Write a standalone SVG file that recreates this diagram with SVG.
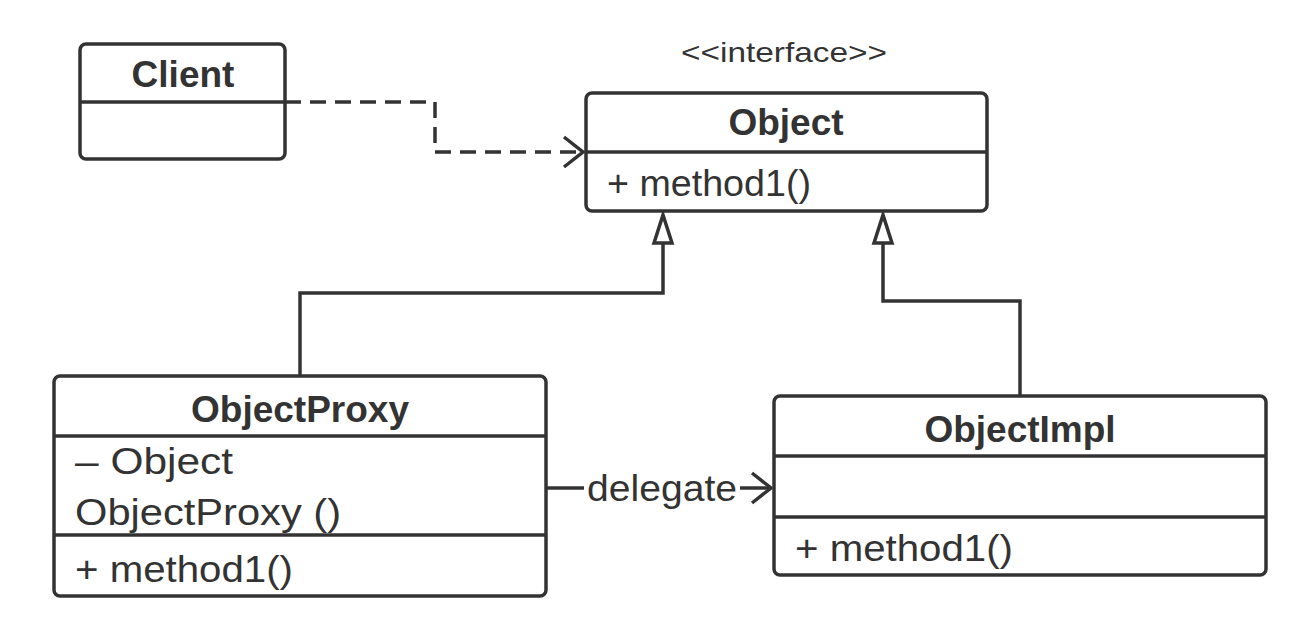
<svg xmlns="http://www.w3.org/2000/svg" width="1304" height="622" viewBox="0 0 1304 622">
<style>
.box{fill:#fff;stroke:#333;stroke-width:3.5}
.div{stroke:#333;stroke-width:3.5}
.t{font-family:"Liberation Sans",Arial,sans-serif;fill:#333;font-size:37px}
.b{font-weight:bold;font-size:37px;text-anchor:middle}
.c{fill:none;stroke:#333;stroke-width:3.5}
</style>
<defs>
<marker id="open" markerWidth="24" markerHeight="34" refX="21" refY="17" orient="auto" markerUnits="userSpaceOnUse">
<path d="M2,2 L21,17 L2,32" fill="none" stroke="#333" stroke-width="3.5"/>
</marker>
</defs>
<g id="connectors">
<path class="c" d="M285,102 H435 V152 H583" stroke-dasharray="16,9" marker-end="url(#open)"/>
<path class="c" d="M300,376 V293 H663 V243"/>
<path class="c" d="M663,243 L654,243 L663,215 L672,243 Z" fill="#fff"/>
<path class="c" d="M1020,396 V301 H883 V243"/>
<path class="c" d="M883,243 L874,243 L883,215 L892,243 Z" fill="#fff"/>
<path class="c" d="M546,488 H584"/>
<path class="c" d="M740,488 H771" marker-end="url(#open)"/>
<text class="t" x="587" y="501" textLength="150" lengthAdjust="spacingAndGlyphs">delegate</text>
</g>
<g id="client">
<rect class="box" x="80" y="44" width="205" height="115" rx="6"/>
<line class="div" x1="80" y1="102" x2="285" y2="102"/>
<text class="t b" x="183" y="87">Client</text>
</g>
<g id="object">
<text class="t" x="681" y="62" style="font-size:28px" textLength="206" lengthAdjust="spacingAndGlyphs">&lt;&lt;interface&gt;&gt;</text>
<rect class="box" x="586" y="93" width="401" height="118" rx="6"/>
<line class="div" x1="586" y1="152" x2="987" y2="152"/>
<text class="t b" x="786" y="135">Object</text>
<text class="t" x="607" y="196" textLength="204" lengthAdjust="spacingAndGlyphs">+ method1()</text>
</g>
<g id="objectproxy">
<rect class="box" x="54" y="376" width="492" height="220" rx="6"/>
<line class="div" x1="54" y1="436" x2="546" y2="436"/>
<line class="div" x1="54" y1="535" x2="546" y2="535"/>
<text class="t b" x="300" y="422">ObjectProxy</text>
<text class="t" x="75" y="474" textLength="158" lengthAdjust="spacingAndGlyphs">– Object</text>
<text class="t" x="75" y="525" textLength="266" lengthAdjust="spacingAndGlyphs">ObjectProxy ()</text>
<text class="t" x="75" y="582" textLength="218" lengthAdjust="spacingAndGlyphs">+ method1()</text>
</g>
<g id="objectimpl">
<rect class="box" x="774" y="396" width="492" height="179" rx="6"/>
<line class="div" x1="774" y1="456" x2="1266" y2="456"/>
<line class="div" x1="774" y1="517" x2="1266" y2="517"/>
<text class="t b" x="1020" y="442">ObjectImpl</text>
<text class="t" x="795" y="561" textLength="218" lengthAdjust="spacingAndGlyphs">+ method1()</text>
</g>
</svg>
